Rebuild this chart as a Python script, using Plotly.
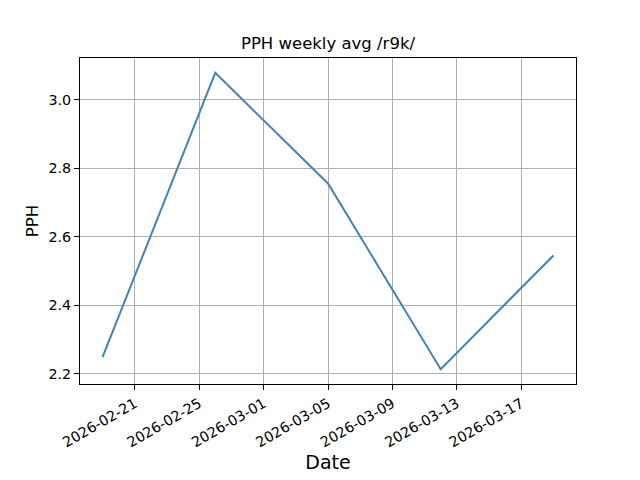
import plotly.graph_objects as go
import pandas as pd

dates = ["2026-02-19", "2026-02-26", "2026-03-05", "2026-03-12", "2026-03-19"]
pph = [2.249, 3.079, 2.756, 2.214, 2.546]
title_text = "PPH weekly avg /r9k/"
x_label = "Date"
y_label = "PPH"
y_ticks = [2.2, 2.4, 2.6, 2.8, 3.0]

d = pd.to_datetime(dates)
span = d.max() - d.min()
xr = [d.min() - span * 0.05, d.max() + span * 0.05]
yspan = max(pph) - min(pph)
yr = [min(pph) - yspan * 0.05, max(pph) + yspan * 0.05]

# page body has an 8px margin, so the figure is drawn from (8, 8)
W, H = 632, 472
L, R, T, B = 72, 64, 50, 96

fig = go.Figure()
fig.add_trace(go.Scatter(x=d, y=pph, mode="lines",
                         line=dict(color="#4682b4", width=2)))

axis_common = dict(showline=True, linecolor="black", linewidth=1, mirror=True,
                   ticks="outside", ticklen=5, tickwidth=1, tickcolor="black",
                   showgrid=True, gridcolor="#b0b0b0", gridwidth=1, zeroline=False,
                   tickfont=dict(family="DejaVu Sans", size=14.3, color="black"))

fig.update_layout(
    width=W, height=H,
    margin=dict(l=L, r=R, t=T, b=B, autoexpand=False),
    paper_bgcolor="white", plot_bgcolor="white",
    showlegend=False,
    title=dict(text=title_text, x=(L + (W - R - L) / 2) / W, xanchor="center",
               y=1 - 35 / H, yanchor="middle",
               font=dict(family="DejaVu Sans", size=16.5, color="black")),
    font=dict(family="DejaVu Sans", color="black"),
)
fig.update_xaxes(range=xr, type="date", tick0="2026-02-21", dtick=4 * 86400000,
                 tickformat="%Y-%m-%d", tickangle=-30,
                 title=dict(text=x_label, font=dict(family="DejaVu Sans", size=19), standoff=6),
                 **axis_common)
fig.update_yaxes(range=yr, tickvals=y_ticks, tickformat=".1f",
                 title=dict(text=y_label, font=dict(family="DejaVu Sans", size=16.5), standoff=5),
                 **axis_common)

fig.write_html("out.html")
